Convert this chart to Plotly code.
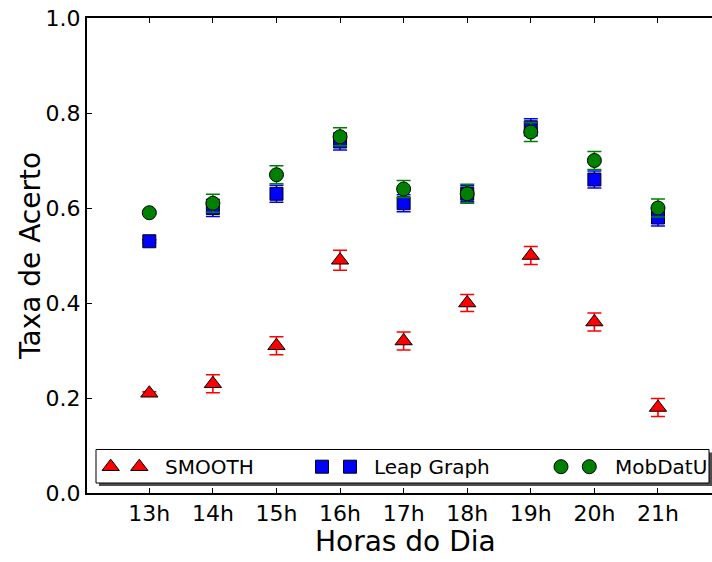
import plotly.graph_objects as go

hours = [13, 14, 15, 16, 17, 18, 19, 20, 21]
hour_labels = ["13h", "14h", "15h", "16h", "17h", "18h", "19h", "20h", "21h"]

smooth = [0.21, 0.23, 0.31, 0.49, 0.32, 0.40, 0.50, 0.36, 0.18]
smooth_err = [0.003, 0.019, 0.019, 0.021, 0.019, 0.018, 0.019, 0.019, 0.019]

leap = [0.53, 0.60, 0.63, 0.74, 0.61, 0.63, 0.77, 0.66, 0.58]
leap_err = [0.003, 0.018, 0.018, 0.018, 0.018, 0.017, 0.018, 0.018, 0.018]

mob = [0.59, 0.61, 0.67, 0.75, 0.64, 0.63, 0.76, 0.70, 0.60]
mob_err = [0.003, 0.019, 0.019, 0.019, 0.018, 0.020, 0.020, 0.019, 0.019]

y_ticks = [0.0, 0.2, 0.4, 0.6, 0.8, 1.0]

series = [
    ("SMOOTH", smooth, smooth_err, "#ff0000", "triangle-up", 15),
    ("Leap Graph", leap, leap_err, "#0000ff", "square", 13),
    ("MobDatU", mob, mob_err, "#008000", "circle", 14),
]

FONT = "DejaVu Sans"
W, H = 712, 562
ML, MR, MT, MB = 87, 0, 18, 69
PW, PH = W - ML - MR, H - MT - MB


def px_x(p):
    return (p - ML) / PW


def px_y(p):
    return (H - MB - p) / PH


fig = go.Figure()
for name, vals, errs, col, sym, sz in series:
    fig.add_trace(go.Scatter(
        x=hours, y=vals, mode="markers", name=name,
        marker=dict(symbol=sym, size=sz, color=col, line=dict(color="black", width=1)),
        error_y=dict(type="data", array=errs, visible=True, color=col, thickness=1.6, width=7),
        showlegend=False,
    ))

# custom legend (two handles per entry, matplotlib style)
leg_y = px_y(466.7)
handle_px = [(110.7, 139.3, 162.7), (322.0, 350.0, 372.0), (561.0, 589.3, 613.3)]
for (name, vals, errs, col, sym, sz), (h1, h2, tx) in zip(series, handle_px):
    fig.add_trace(go.Scatter(
        x=[px_x(h1), px_x(h2)], y=[leg_y, leg_y], mode="markers",
        marker=dict(symbol=sym, size=sz, color=col, line=dict(color="black", width=1)),
        xaxis="x2", yaxis="y2", showlegend=False, hoverinfo="skip",
    ))
    fig.add_annotation(x=px_x(tx), y=leg_y, xref="paper", yref="paper", text=name,
                       showarrow=False, xanchor="left", yanchor="middle",
                       font=dict(family=FONT, size=20, color="black"))

bx0, bx1, by0, by1 = px_x(96), px_x(709), px_y(483), px_y(449.5)
fig.add_shape(type="rect", xref="paper", yref="paper", layer="below",
              x0=bx0 + 3 / PW, x1=bx1 + 3 / PW, y0=by0 - 3 / PH, y1=by1 - 3 / PH,
              fillcolor="#4d4d4d", line=dict(width=0))
fig.add_shape(type="rect", xref="paper", yref="paper", layer="below",
              x0=bx0, x1=bx1, y0=by0, y1=by1,
              fillcolor="white", line=dict(color="black", width=1))

fig.add_annotation(x=px_x(405), y=px_y(541), xref="paper", yref="paper", text="Horas do Dia",
                   showarrow=False, xanchor="center", yanchor="middle",
                   font=dict(family=FONT, size=28, color="black"))
fig.add_annotation(x=px_x(30), y=px_y(256), xref="paper", yref="paper", text="Taxa de Acerto",
                   showarrow=False, xanchor="center", yanchor="middle", textangle=-90,
                   font=dict(family=FONT, size=28, color="black"))

fig.update_layout(
    width=W, height=H,
    margin=dict(l=ML, r=MR, t=MT, b=MB),
    paper_bgcolor="white", plot_bgcolor="white",
    font=dict(family=FONT, size=22, color="black"),
    showlegend=False,
    xaxis=dict(
        range=[12.02, 21.85], tickmode="array", tickvals=hours, ticktext=hour_labels,
        showgrid=False, zeroline=False, showline=True, linecolor="black", linewidth=2,
        mirror="ticks", ticks="inside", ticklen=5, tickwidth=1, tickcolor="black",
        tickfont=dict(family=FONT, size=22, color="black"),
    ),
    yaxis=dict(
        range=[0, 1], tickmode="array", tickvals=y_ticks, tickformat=".1f",
        showgrid=False, zeroline=False, showline=True, linecolor="black", linewidth=2,
        ticks="inside", ticklen=5, tickwidth=1, tickcolor="black",
        tickfont=dict(family=FONT, size=22, color="black"),
    ),
    xaxis2=dict(range=[0, 1], overlaying="x", visible=False, fixedrange=True),
    yaxis2=dict(range=[0, 1], overlaying="y", visible=False, fixedrange=True),
)

fig.write_html(
    "out.html",
    config={"displayModeBar": False},
    post_script="document.body.style.margin='0';document.body.style.padding='0';document.body.style.overflow='hidden';",
)
